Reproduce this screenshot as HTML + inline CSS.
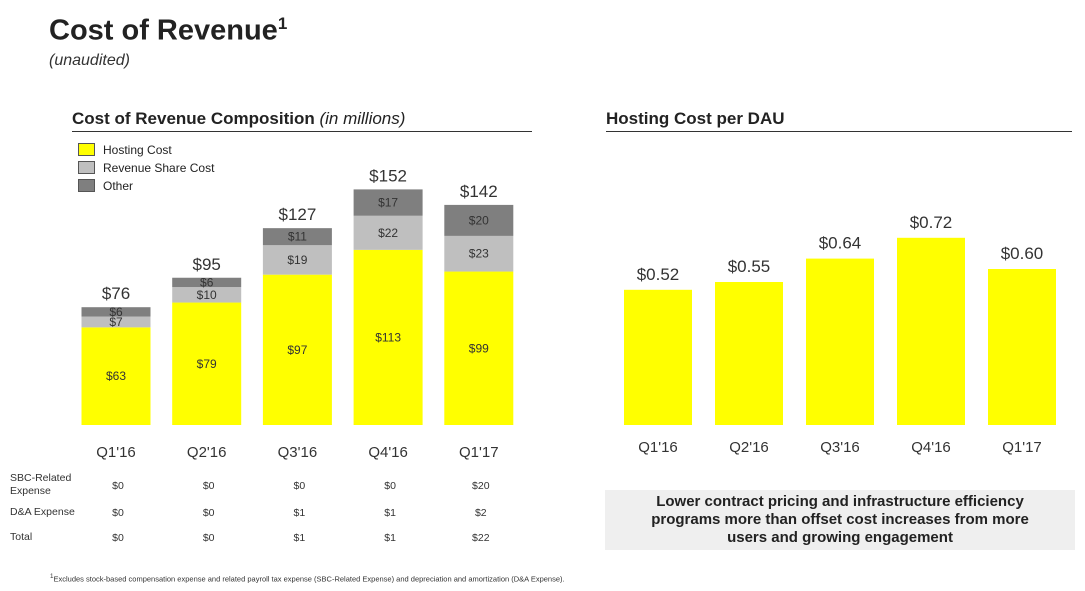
<!DOCTYPE html>
<html><head><meta charset="utf-8"><style>
body{margin:0;width:1085px;height:591px;background:#fff;font-family:"Liberation Sans",sans-serif;color:#222;position:relative;overflow:hidden}
.a{position:absolute}
</style></head><body>
<div class="a" style="left:49px;top:14px;font-size:29px;font-weight:bold;color:#222">Cost of Revenue<sup style="font-size:17px">1</sup></div>
<div class="a" style="left:49px;top:52px;font-size:16px;font-style:italic;color:#333">(unaudited)</div>
<div class="a" style="left:72px;top:109px;font-size:17px;font-weight:bold">Cost of Revenue Composition <span style="font-weight:normal;font-style:italic">(in millions)</span></div>
<div class="a" style="left:72px;top:131px;width:460px;height:1px;background:#333"></div>
<div class="a" style="left:606px;top:109px;font-size:17px;font-weight:bold">Hosting Cost per DAU</div>
<div class="a" style="left:606px;top:131px;width:466px;height:1px;background:#333"></div>
<div class="a" style="left:78px;top:141px;font-size:12px;line-height:18px">
<div><span style="display:inline-block;width:15px;height:11px;background:#ffff00;border:1px solid #555;vertical-align:-2px;margin-right:8px"></span>Hosting Cost</div>
<div><span style="display:inline-block;width:15px;height:11px;background:#bfbfbf;border:1px solid #555;vertical-align:-2px;margin-right:8px"></span>Revenue Share Cost</div>
<div><span style="display:inline-block;width:15px;height:11px;background:#7f7f7f;border:1px solid #555;vertical-align:-2px;margin-right:8px"></span>Other</div>
</div>
<svg class="a" style="left:0;top:0" width="1085" height="591" id="chart"></svg>
<div class="a" style="left:10px;top:472px;font-size:10.5px;color:#333">
<div class="a" style="top:0;width:70px;line-height:13px">SBC-Related Expense</div>
<div class="a" style="top:34px;width:80px">D&amp;A Expense</div>
<div class="a" style="top:59px">Total</div>
</div>
<div class="a" style="left:605px;top:490px;width:470px;height:60px;background:#efefef;font-size:15px;font-weight:bold;text-align:center;line-height:18px;padding-top:3px;box-sizing:border-box;color:#222">Lower contract pricing and infrastructure efficiency<br>programs more than offset cost increases from more<br>users and growing engagement</div>
<div class="a" style="left:50px;top:573px;font-size:7.5px;color:#333"><sup>1</sup>Excludes stock-based compensation expense and related payroll tax expense (SBC-Related Expense) and depreciation and amortization (D&amp;A Expense).</div>
<script>
const quarters=["Q1'16","Q2'16","Q3'16","Q4'16","Q1'17"];
const hosting=[63,79,97,113,99];
const revShare=[7,10,19,22,23];
const other=[6,6,11,17,20];
const totals=[76,95,127,152,142];
const perDau=[0.52,0.55,0.64,0.72,0.60];
const sbc=[0,0,0,0,20];
const da=[0,0,1,1,2];
const tot=[0,0,1,1,22];
const svg=document.getElementById('chart');const NS='http://www.w3.org/2000/svg';
function mk(t,a,txt){const e=document.createElementNS(NS,t);for(const k in a)e.setAttribute(k,a[k]);if(txt!==undefined)e.textContent=txt;svg.appendChild(e);return e;}
const base=425;
const yL=v=>v*1.55, xL=i=>116+i*90.7, bw=69;
const yR=v=>v*260, xR=i=>658+i*91, rw=68;
quarters.forEach((q,i)=>{
 const cx=xL(i);let y=base;
 const segs=[[hosting[i],'#ffff00','hosting'],[revShare[i],'#bfbfbf','revenue-share'],[other[i],'#7f7f7f','other']];
 segs.forEach(s=>{const h=yL(s[0]);y-=h;
  const r=mk('rect',{x:cx-bw/2,y:y,width:bw,height:h,fill:s[1]});
  
  
  const t=mk('text',{x:cx,y:y+h/2+4,'text-anchor':'middle','font-size':12,fill:'#333'},'$'+s[0]);
  
  
 });
 const tl=mk('text',{x:cx,y:y-8,'text-anchor':'middle','font-size':17,fill:'#333'},'$'+totals[i]);
 
 
 const xl=mk('text',{x:cx,y:457,'text-anchor':'middle','font-size':15,fill:'#333'},q);
 
 
 [[sbc,489],[da,516],[tot,541]].forEach((r,j)=>{const t=mk('text',{x:cx+2,y:r[1],'text-anchor':'middle','font-size':10.5,fill:'#333'},'$'+r[0][i]);
  
  });
 const rx=xR(i),h=yR(perDau[i]);
 const rb=mk('rect',{x:rx-rw/2,y:base-h,width:rw,height:h,fill:'#ffff00'});
 
 
 const rl=mk('text',{x:rx,y:base-h-10,'text-anchor':'middle','font-size':17,fill:'#333'},'$'+perDau[i].toFixed(2));
 
 
 const rq=mk('text',{x:rx,y:452,'text-anchor':'middle','font-size':15,fill:'#333'},q);
 
 
});
</script>
</body></html>
